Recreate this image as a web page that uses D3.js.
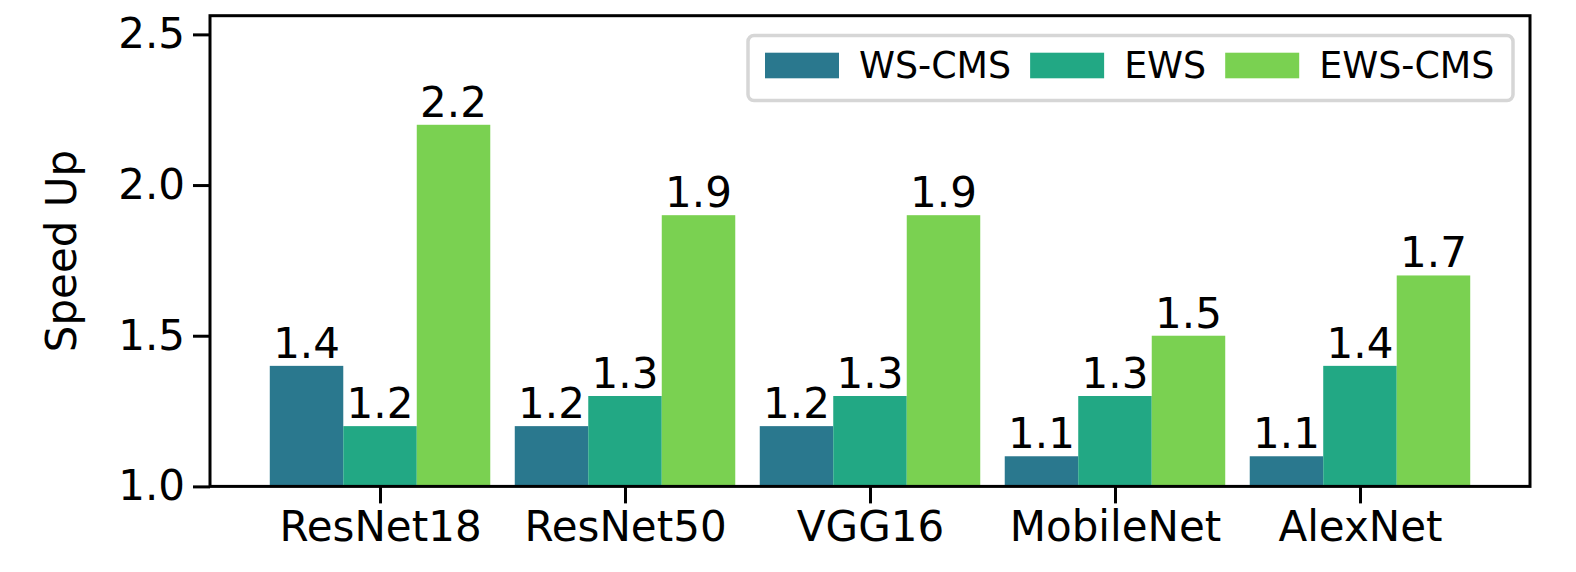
<!DOCTYPE html>
<html>
<head>
<meta charset="utf-8">
<script src="https://cdn.jsdelivr.net/npm/d3@7"></script>
<style>
  html, body { margin: 0; padding: 0; background: #fff; }
  svg { display: block; font-family: "DejaVu Sans", sans-serif; }
</style>
</head>
<body>
<svg id="chart" width="1576" height="572"></svg>
<script>
const categories = ["ResNet18", "ResNet50", "VGG16", "MobileNet", "AlexNet"];
const seriesNames = ["WS-CMS", "EWS", "EWS-CMS"];
const wsCms = [1.4, 1.2, 1.2, 1.1, 1.1];
const ews = [1.2, 1.3, 1.3, 1.3, 1.4];
const ewsCms = [2.2, 1.9, 1.9, 1.5, 1.7];
const colors = ["#2a788e", "#22a884", "#7ad151"];
const yTicks = [1.0, 1.5, 2.0, 2.5];

const series = [wsCms, ews, ewsCms];

const svg = d3.select("#chart");
const plotLeft = 210, plotRight = 1530, plotTop = 15.7, plotBottom = 486.4;
const fs = 42;

const x = d3.scaleLinear().domain([-0.694, categories.length - 1 + 0.694]).range([plotLeft, plotRight]);
const y = d3.scaleLinear().domain([1.0, 2.562]).range([plotBottom, plotTop]);
const barW = 0.3;

// bars
series.forEach((vals, k) => {
  const g = svg.append("g");
  vals.forEach((v, i) => {
    const x0 = x(i + (k - 1) * barW - barW / 2);
    const x1 = x(i + (k - 1) * barW + barW / 2);
    g.append("rect")
      .attr("x", x0).attr("width", x1 - x0)
      .attr("y", y(v)).attr("height", y(1.0) - y(v))
      .attr("fill", colors[k]);
    g.append("text")
      .attr("x", (x0 + x1) / 2)
      .attr("y", y(v) - 8)
      .attr("text-anchor", "middle")
      .attr("font-size", fs)
      .attr("fill", "#000")
      .text(v.toFixed(1));
  });
});

// y axis
const yAxis = d3.axisLeft(y).tickValues(yTicks).tickFormat(d3.format(".1f")).tickSize(17).tickPadding(8);
const gy = svg.append("g").attr("transform", `translate(${plotLeft},0)`).call(yAxis);
gy.select(".domain").remove();
gy.selectAll(".tick line").attr("stroke", "#000").attr("stroke-width", 3);
gy.selectAll(".tick text").attr("font-size", fs).attr("font-family", "DejaVu Sans").attr("fill", "#000");

// x axis
const xAxis = d3.axisBottom(x).tickValues(d3.range(categories.length)).tickFormat(i => categories[i]).tickSize(17).tickPadding(8);
const gx = svg.append("g").attr("transform", `translate(0,${plotBottom})`).call(xAxis);
gx.select(".domain").remove();
gx.selectAll(".tick line").attr("stroke", "#000").attr("stroke-width", 3);
gx.selectAll(".tick text").attr("font-size", fs).attr("font-family", "DejaVu Sans").attr("fill", "#000");

// frame
svg.append("rect")
  .attr("x", plotLeft).attr("y", plotTop)
  .attr("width", plotRight - plotLeft).attr("height", plotBottom - plotTop)
  .attr("fill", "none").attr("stroke", "#000").attr("stroke-width", 3);

// y label
svg.append("text")
  .attr("transform", `translate(76,${(plotTop + plotBottom) / 2}) rotate(-90)`)
  .attr("text-anchor", "middle")
  .attr("font-size", fs)
  .attr("fill", "#000")
  .text("Speed Up");

// legend
const legend = svg.append("g");
legend.append("rect")
  .attr("x", 748).attr("y", 35.5)
  .attr("width", 1513 - 748).attr("height", 65)
  .attr("rx", 6).attr("ry", 6)
  .attr("fill", "#fff").attr("stroke", "#d6d6d6").attr("stroke-width", 3.5);
let lx = 765;
seriesNames.forEach((name, k) => {
  legend.append("rect")
    .attr("x", lx).attr("y", 52.7)
    .attr("width", 74).attr("height", 25.6)
    .attr("fill", colors[k]);
  const t = legend.append("text")
    .attr("x", lx + 74 + 20).attr("y", 77.8)
    .attr("font-size", 36.4)
    .attr("fill", "#000")
    .text(name);
  lx = lx + 74 + 20 + t.node().getComputedTextLength() + 19;
});
</script>
</body>
</html>
